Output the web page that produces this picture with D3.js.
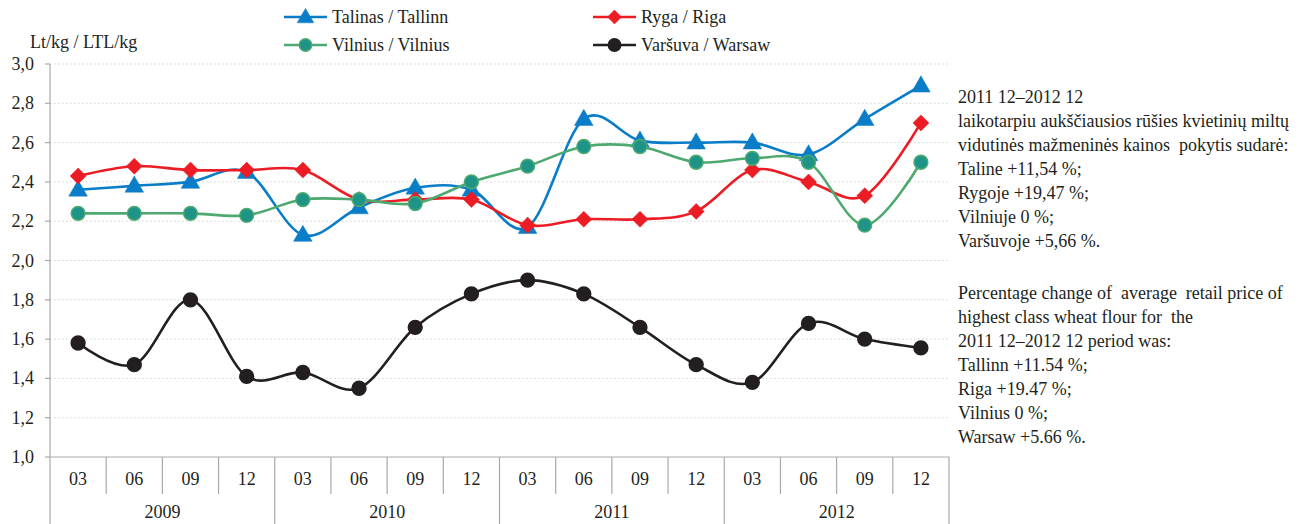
<!DOCTYPE html>
<html><head><meta charset="utf-8">
<script src="https://cdn.jsdelivr.net/npm/d3@7"></script>
<style>
html,body{margin:0;padding:0;background:#fff;}
svg{display:block;}
</style></head>
<body>
<svg id="chart" width="1300" height="524" font-family="'Liberation Serif', 'Times New Roman', serif"></svg>
<script>
// ---- data ----
const years = ["2009", "2010", "2011", "2012"];
const months = ["03", "06", "09", "12"];
const yTicks = [1.0, 1.2, 1.4, 1.6, 1.8, 2.0, 2.2, 2.4, 2.6, 2.8, 3.0];
const seriesNames = ["Talinas / Tallinn", "Ryga / Riga", "Vilnius / Vilnius", "Varšuva / Warsaw"];
const tallinn = [2.36, 2.38, 2.40, 2.45, 2.13, 2.27, 2.37, 2.36, 2.17, 2.72, 2.61, 2.60, 2.60, 2.54, 2.72, 2.89];
const riga    = [2.43, 2.48, 2.46, 2.46, 2.46, 2.31, 2.31, 2.31, 2.18, 2.21, 2.21, 2.25, 2.46, 2.40, 2.33, 2.70];
const vilnius = [2.24, 2.24, 2.24, 2.23, 2.31, 2.31, 2.29, 2.40, 2.48, 2.58, 2.58, 2.50, 2.52, 2.50, 2.18, 2.50];
const warsaw  = [1.58, 1.47, 1.80, 1.41, 1.43, 1.35, 1.66, 1.83, 1.90, 1.83, 1.66, 1.47, 1.38, 1.68, 1.60, 1.555];
const yTitle = "Lt/kg / LTL/kg";
const noteLt = ["2011 12–2012 12",
  "laikotarpiu aukščiausios rūšies kvietinių miltų",
  "vidutinės mažmeninės kainos  pokytis sudarė:",
  "Taline +11,54 %;",
  "Rygoje +19,47 %;",
  "Vilniuje 0 %;",
  "Varšuvoje +5,66 %."];
const noteEn = ["Percentage change of  average  retail price of",
  "highest class wheat flour for  the",
  "2011 12–2012 12 period was:",
  "Tallinn +11.54 %;",
  "Riga +19.47 %;",
  "Vilnius 0 %;",
  "Warsaw +5.66 %."];

// ---- layout ----
const FS = 18;
const svg = d3.select("#chart");
const L = 50, R = 949, T = 64, B = 457;
const cats = [];
years.forEach(y => months.forEach(m => cats.push(y + "-" + m)));
const x = d3.scaleBand().domain(cats).range([L, R]).padding(0);
const y = d3.scaleLinear().domain([1.0, 3.0]).range([B, T]);
const cx = i => x(cats[i]) + x.bandwidth() / 2;

const styles = [
  {data: tallinn, color: "#0a7dc8", marker: "triangle", mfill: "#0a7dc8", mstroke: "#0a7dc8"},
  {data: riga, color: "#ec1c24", marker: "diamond", mfill: "#ec1c24", mstroke: "#ec1c24"},
  {data: vilnius, color: "#4ea96f", marker: "circle", mfill: "#1e9489", mstroke: "#4ea96f"},
  {data: warsaw, color: "#231f20", marker: "circle", mfill: "#231f20", mstroke: "#231f20"}
];

// gridlines
svg.append("g").selectAll("line").data(yTicks.filter(t => t > 1.0)).join("line")
  .attr("x1", L).attr("x2", R).attr("y1", d => y(d)).attr("y2", d => y(d))
  .attr("stroke", "#d0d0d0").attr("stroke-width", 1).attr("stroke-dasharray", "1.5,2.5");

// y axis
const axisColor = "#a9a9a9";
svg.append("line").attr("x1", L).attr("x2", L).attr("y1", T).attr("y2", 524)
  .attr("stroke", axisColor).attr("stroke-width", 1.2);
svg.append("g").selectAll("line").data(yTicks).join("line")
  .attr("x1", L - 5).attr("x2", L).attr("y1", d => y(d)).attr("y2", d => y(d))
  .attr("stroke", axisColor).attr("stroke-width", 1.2);
svg.append("g").selectAll("text").data(yTicks).join("text")
  .attr("x", 34).attr("y", d => y(d) + 6).attr("text-anchor", "end")
  .attr("font-size", FS).attr("fill", "#231f20")
  .text(d => d3.format(".1f")(d).replace(".", ","));
svg.append("text").attr("x", 30).attr("y", 48).attr("font-size", FS).attr("fill", "#231f20").text(yTitle);

// x axis
svg.append("line").attr("x1", L).attr("x2", R).attr("y1", B).attr("y2", B)
  .attr("stroke", axisColor).attr("stroke-width", 1.2);
svg.append("g").selectAll("line").data(cats.slice(1)).join("line")
  .attr("x1", d => x(d)).attr("x2", d => x(d)).attr("y1", B)
  .attr("y2", (d, i) => ((i + 1) % 4 === 0 ? 524 : 494))
  .attr("stroke", axisColor).attr("stroke-width", 1.2);
svg.append("line").attr("x1", R).attr("x2", R).attr("y1", B).attr("y2", 524)
  .attr("stroke", axisColor).attr("stroke-width", 1.2);
svg.append("g").selectAll("text").data(cats).join("text")
  .attr("x", (d, i) => cx(i)).attr("y", 485).attr("text-anchor", "middle")
  .attr("font-size", FS).attr("fill", "#231f20").text(d => d.split("-")[1]);
svg.append("g").selectAll("text").data(years).join("text")
  .attr("x", (d, i) => (x(d + "-03") + x(d + "-12") + x.bandwidth()) / 2).attr("y", 518)
  .attr("text-anchor", "middle").attr("font-size", FS).attr("fill", "#231f20").text(d => d);

// series
const line = d3.line().x((d, i) => cx(i)).y(d => y(d)).curve(d3.curveCatmullRom.alpha(0));
function markerPath(type) {
  if (type === "triangle") return d3.symbol(d3.symbolTriangle, 150)();
  if (type === "diamond") return "M0,-8L8,0L0,8L-8,0Z";
  return d3.symbol(d3.symbolCircle, 150)();
}
styles.forEach(s => {
  const g = svg.append("g");
  g.append("path").attr("d", line(s.data)).attr("fill", "none")
    .attr("stroke", s.color).attr("stroke-width", 2.6).attr("stroke-linejoin", "round");
  g.selectAll("path.m").data(s.data).join("path").attr("class", "m")
    .attr("transform", (d, i) => `translate(${cx(i)},${y(d) + (s.marker === "triangle" ? 1 : 0)})`)
    .attr("d", markerPath(s.marker))
    .attr("fill", s.mfill).attr("stroke", s.mstroke).attr("stroke-width", s.marker === "circle" ? 1.5 : 0.5);
});

// legend
const legPos = [[284, 17], [593, 17], [284, 45], [593, 45]];
const legOrder = [0, 1, 2, 3];
legOrder.forEach((si, k) => {
  const s = styles[si];
  const [lx, ly] = legPos[k];
  const g = svg.append("g");
  g.append("line").attr("x1", lx).attr("x2", lx + 43).attr("y1", ly).attr("y2", ly)
    .attr("stroke", s.color).attr("stroke-width", 2.6);
  g.append("path").attr("transform", `translate(${lx + 21.5},${ly + (s.marker === "triangle" ? 1 : 0)})`)
    .attr("d", s.marker === "diamond" ? "M0,-7L7,0L0,7L-7,0Z" : d3.symbol(s.marker === "triangle" ? d3.symbolTriangle : d3.symbolCircle, 120)())
    .attr("fill", s.mfill).attr("stroke", s.mstroke).attr("stroke-width", s.marker === "circle" ? 1.5 : 0.5);
  g.append("text").attr("x", lx + 48).attr("y", ly + 6).attr("font-size", FS).attr("fill", "#231f20")
    .text(seriesNames[si]);
});

// notes
svg.append("g").selectAll("text").data(noteLt).join("text")
  .attr("x", 958).attr("y", (d, i) => 103 + i * 24).attr("font-size", FS).attr("fill", "#231f20")
  .style("white-space", "pre").text(d => d);
svg.append("g").selectAll("text").data(noteEn).join("text")
  .attr("x", 958).attr("y", (d, i) => 299 + i * 24).attr("font-size", FS).attr("fill", "#231f20")
  .style("white-space", "pre").text(d => d);
</script>
</body></html>
